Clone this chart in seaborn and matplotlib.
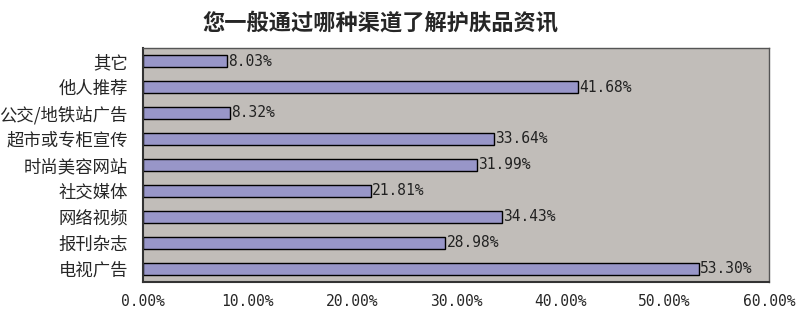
import matplotlib
matplotlib.use("Agg")
import matplotlib.pyplot as plt
import seaborn as sns
import pandas as pd
import numpy as np

categories = ["其它", "他人推荐", "公交/地铁站广告", "超市或专柜宣传", "时尚美容网站",
              "社交媒体", "网络视频", "报刊杂志", "电视广告"]
values = [8.03, 41.68, 8.32, 33.64, 31.99, 21.81, 34.43, 28.98, 53.30]
xticks = [0, 10, 20, 30, 40, 50, 60]
title = "您一般通过哪种渠道了解护肤品资讯"

sns.set_theme(style="white")
plt.rcParams['font.family'] = ['Noto Sans CJK SC', 'DejaVu Sans']

df = pd.DataFrame({"cat": categories, "val": values})

fig = plt.figure(figsize=(8, 3.16), dpi=100)
ax = fig.add_axes([0.179, 0.108, 0.782, 0.740])
ax.set_facecolor("#c1bdb9")

sns.barplot(data=df, x="val", y="cat", order=categories, orient="h",
            color="#9896c8", saturation=1, edgecolor="black", linewidth=1.0,
            width=0.45, ax=ax)

for i, v in enumerate(values):
    ax.text(v + 0.1, i, f"{v:.2f}%", va="center", ha="left",
            fontsize=10.5, family="DejaVu Sans Mono", color="#222222")

ax.set_xlim(0, 60)
ax.set_ylim(len(categories) - 0.5, -0.5)
ax.set_xticks(xticks)
ax.set_xticklabels([f"{t:.2f}%" for t in xticks], family="DejaVu Sans Mono", fontsize=10.5)
ax.set_yticks(np.arange(len(categories)))
ax.set_yticklabels(categories, fontsize=12.5)
ax.set_yticks(np.arange(len(categories)) - 0.5, minor=True)
ax.tick_params(axis="y", which="major", length=0, pad=11)
ax.tick_params(axis="y", which="minor", direction="in", length=4, width=1, color="#333333")
ax.tick_params(axis="x", direction="in", length=4, width=1, color="#333333", pad=9)
ax.set_xlabel("")
ax.set_ylabel("")
for s in ["left", "bottom"]:
    ax.spines[s].set_color("#333333")
    ax.spines[s].set_linewidth(1.5)
for s in ["top", "right"]:
    ax.spines[s].set_color("#555555")
    ax.spines[s].set_linewidth(1.0)

fig.suptitle(title, x=0.475, y=0.965, fontsize=16, fontweight="bold")
fig.savefig("out.png", dpi=100)
